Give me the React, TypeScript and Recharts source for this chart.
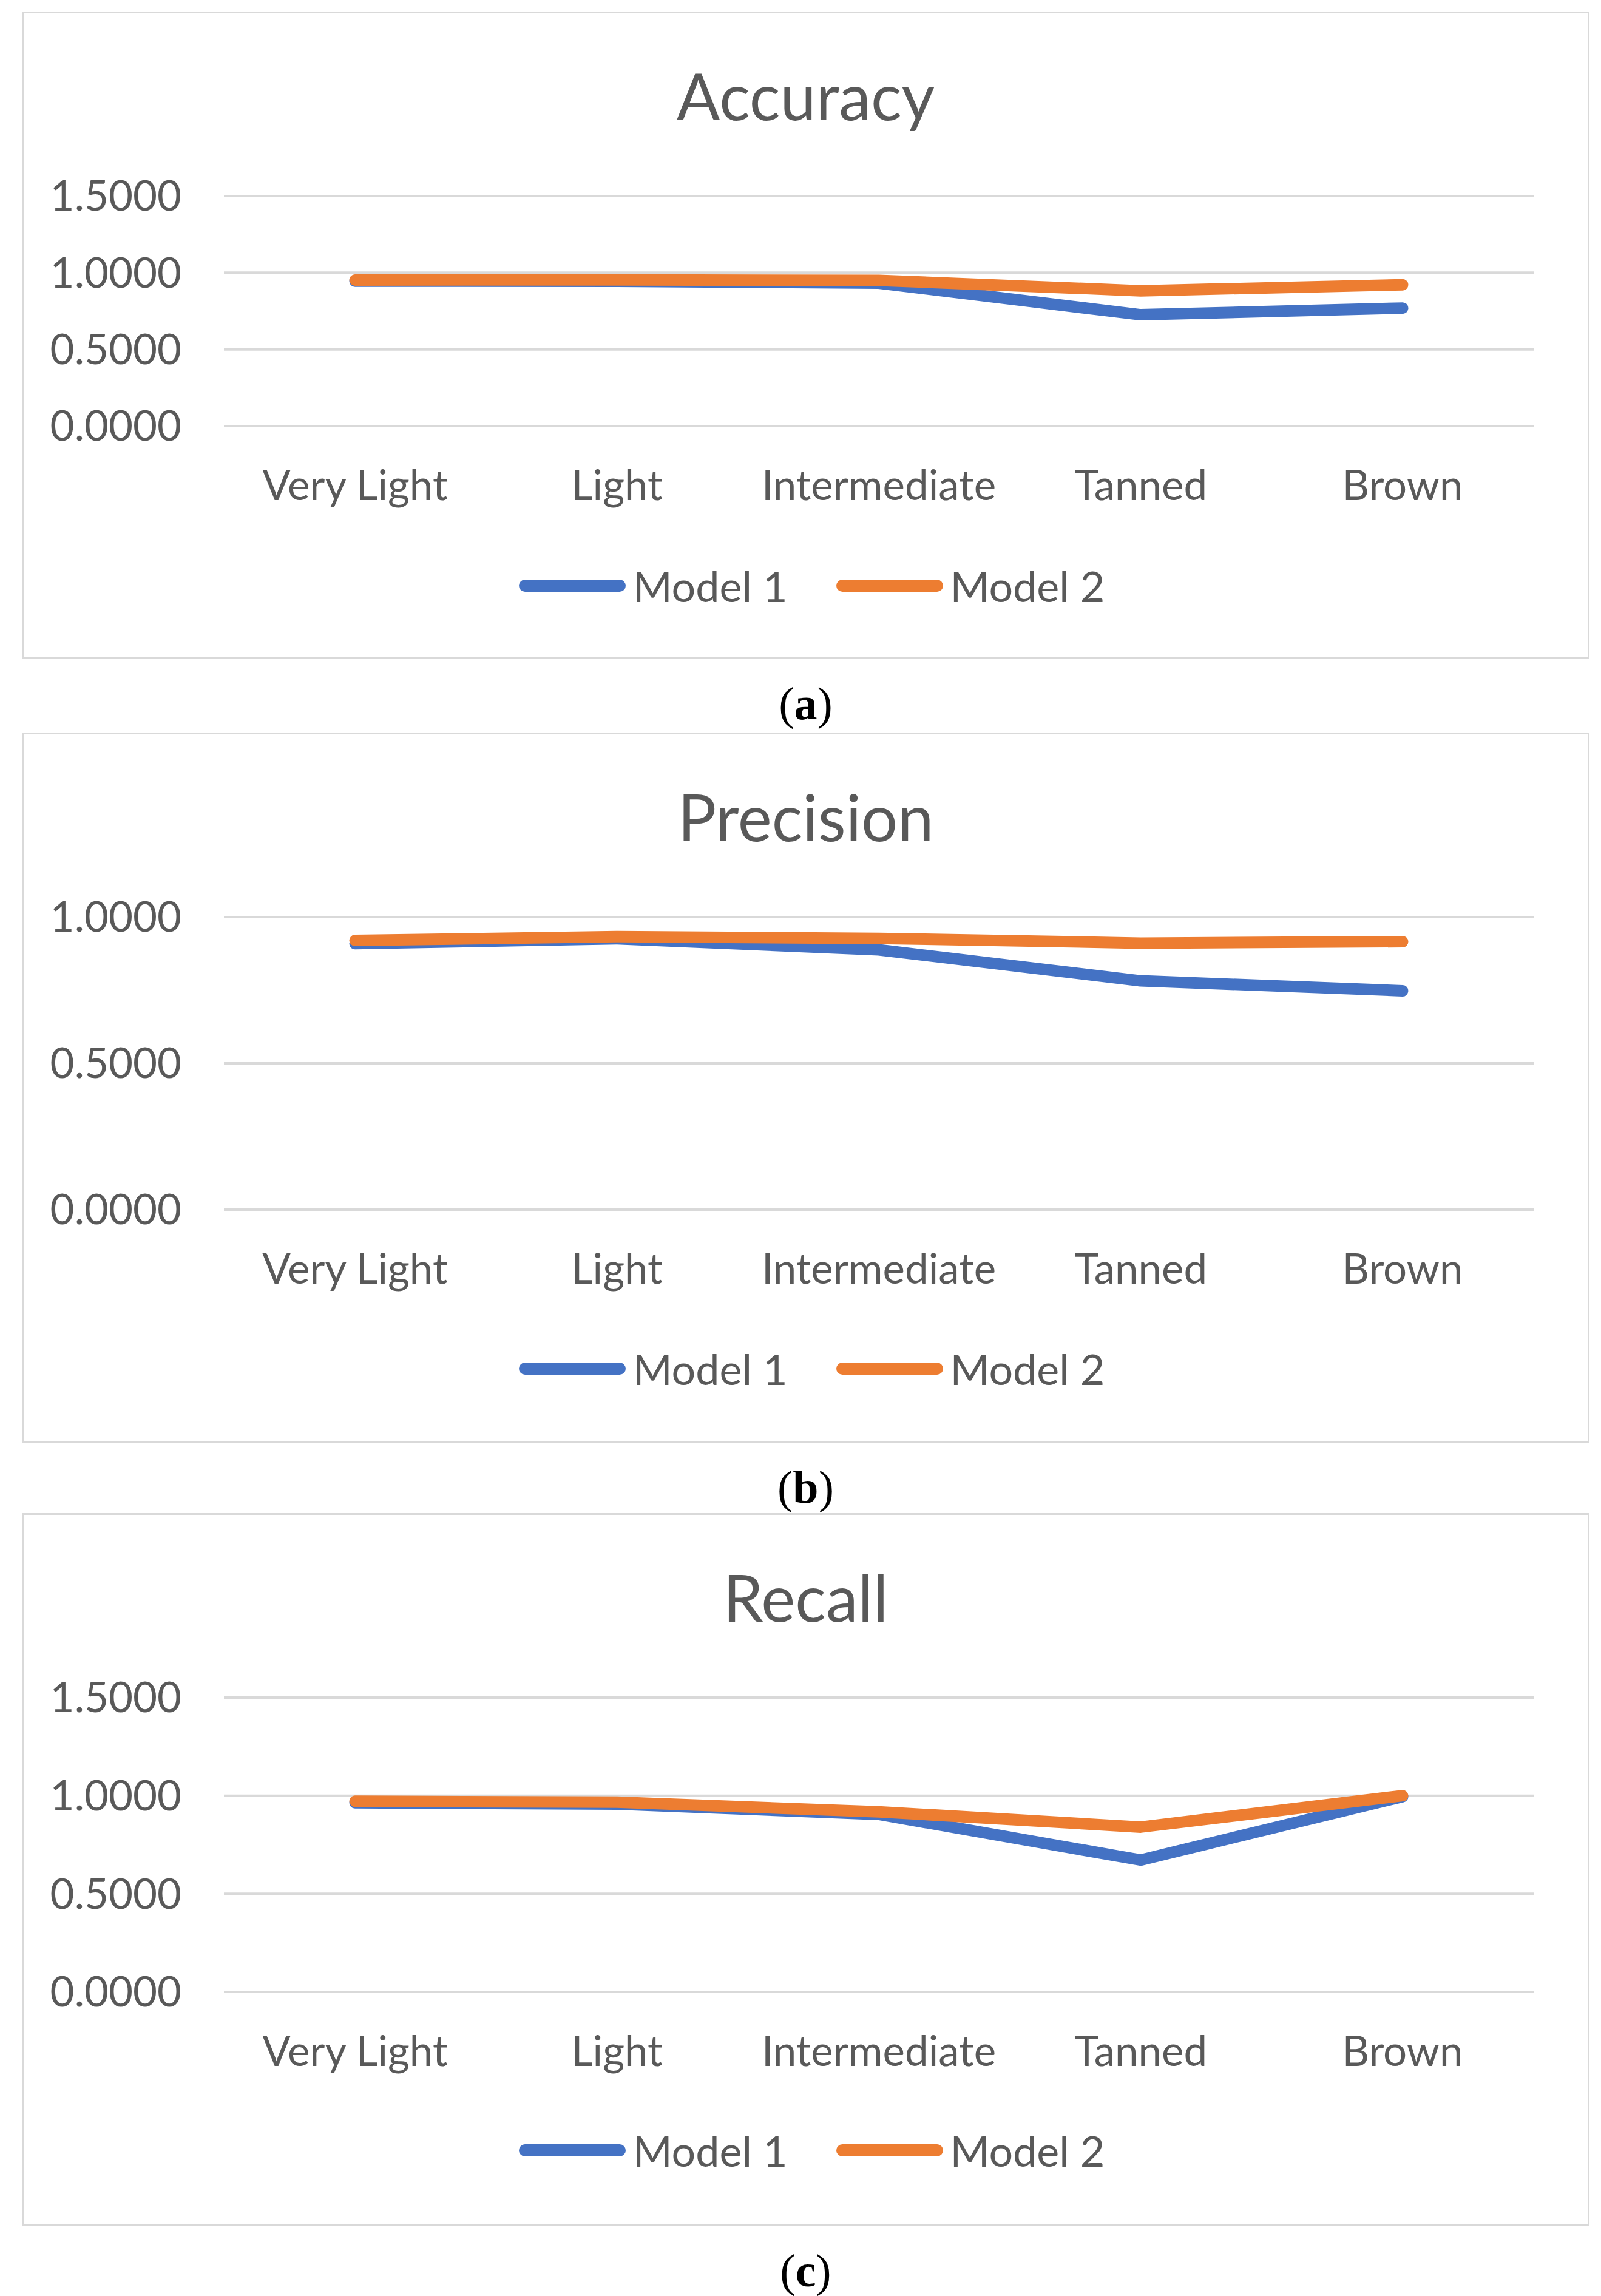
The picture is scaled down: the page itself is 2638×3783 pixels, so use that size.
import { CartesianGrid, Legend, Line, LineChart, XAxis, YAxis } from "recharts"

const categories = ["Very Light", "Light", "Intermediate", "Tanned", "Brown"]

const accuracyModel1 = [0.945, 0.944, 0.932, 0.726, 0.769]
const accuracyModel2 = [0.952, 0.953, 0.95, 0.882, 0.921]
const precisionModel1 = [0.909, 0.926, 0.888, 0.782, 0.748]
const precisionModel2 = [0.92, 0.933, 0.927, 0.911, 0.916]
const recallModel1 = [0.964, 0.957, 0.905, 0.672, 0.995]
const recallModel2 = [0.972, 0.967, 0.918, 0.84, 1.0]

const ticksWide = [0, 0.5, 1, 1.5]
const ticksNarrow = [0, 0.5, 1]

const BLUE = "#4472C4"
const ORANGE = "#ED7D31"
const TEXT = "#595959"
const FONT = "Lato, 'Open Sans', sans-serif"

const PANEL_LEFT = 36
const PANEL_WIDTH = 2583

function buildRows(m1: number[], m2: number[]) {
  return categories.map((name, i) => ({ name, m1: m1[i], m2: m2[i] }))
}

function LegendBox() {
  const item = (color: string, label: string, gap: number) => (
    <div style={{ display: "flex", alignItems: "center", marginRight: gap }}>
      <div style={{ width: 176, height: 20, borderRadius: 10, background: color, marginRight: 12 }} />
      <span style={{ fontSize: 70, color: TEXT, fontFamily: FONT }}>{label}</span>
    </div>
  )
  return (
    <div style={{ display: "flex", justifyContent: "center", alignItems: "center", height: 90, paddingLeft: 20 }}>
      {item(BLUE, "Model 1", 80)}
      {item(ORANGE, "Model 2", 0)}
    </div>
  )
}

function Panel({
  top,
  height,
  plotBottom,
  legendTop,
  title,
  caption,
  m1,
  m2,
  domainMax,
  ticks,
}: {
  top: number
  height: number
  plotBottom: number
  legendTop: number
  title: string
  caption: string
  m1: number[]
  m2: number[]
  domainMax: number
  ticks: number[]
}) {
  const plotTop = 304
  const xAxisHeight = 120
  return (
    <>
      <div
        style={{
          position: "absolute",
          left: PANEL_LEFT,
          top,
          width: PANEL_WIDTH,
          height,
          border: "3px solid #d9d9d9",
          boxSizing: "border-box",
          background: "#fff",
        }}
      />
      <div
        style={{
          position: "absolute",
          left: PANEL_LEFT,
          top: top + 138 - 60,
          width: PANEL_WIDTH,
          textAlign: "center",
          fontFamily: FONT,
          fontSize: 106,
          lineHeight: "120px",
          color: TEXT,
        }}
      >
        {title}
      </div>
      <div style={{ position: "absolute", left: PANEL_LEFT, top }}>
        <LineChart
          width={PANEL_WIDTH}
          height={height}
          data={buildRows(m1, m2)}
          margin={{ top: plotTop, right: 92, left: 0, bottom: height - plotBottom - xAxisHeight }}
        >
          <CartesianGrid horizontal vertical={false} stroke="#d9d9d9" strokeWidth={4} />
          <XAxis
            dataKey="name"
            height={xAxisHeight}
            axisLine={false}
            tickLine={false}
            tickMargin={67}
            padding={{ left: 216, right: 216 }}
            tick={{ fill: TEXT, fontSize: 69, fontFamily: FONT }}
            interval={0}
          />
          <YAxis
            width={333}
            domain={[0, domainMax]}
            ticks={ticks}
            axisLine={false}
            tickLine={false}
            tickMargin={64}
            tickFormatter={(v: number) => v.toFixed(4)}
            tick={{ fill: TEXT, fontSize: 69, fontFamily: FONT }}
          />
          <Legend
            verticalAlign="middle"
            layout="horizontal"
            align="center"
            wrapperStyle={{ top: legendTop, left: 0, width: PANEL_WIDTH }}
            content={() => <LegendBox />}
          />
          <Line
            dataKey="m1"
            name="Model 1"
            stroke={BLUE}
            strokeWidth={19}
            strokeLinecap="round"
            strokeLinejoin="round"
            dot={false}
            isAnimationActive={false}
          />
          <Line
            dataKey="m2"
            name="Model 2"
            stroke={ORANGE}
            strokeWidth={19}
            strokeLinecap="round"
            strokeLinejoin="round"
            dot={false}
            isAnimationActive={false}
          />
        </LineChart>
      </div>
      <div
        style={{
          position: "absolute",
          left: PANEL_LEFT,
          top: top + height + 31,
          width: PANEL_WIDTH,
          textAlign: "center",
          fontFamily: "'Liberation Serif', 'DejaVu Serif', serif",
          fontSize: 76,
          lineHeight: "84px",
          color: "#000",
        }}
      >
        (<b>{caption}</b>)
      </div>
    </>
  )
}

export default function App() {
  return (
    <div style={{ position: "absolute", left: 0, top: 0, width: 2638, height: 3783, background: "#fff" }}>
      <Panel
        top={19}
        height={1067}
        plotBottom={683}
        legendTop={901}
        title="Accuracy"
        caption="a"
        m1={accuracyModel1}
        m2={accuracyModel2}
        domainMax={1.5}
        ticks={ticksWide}
      />
      <Panel
        top={1207}
        height={1170}
        plotBottom={786}
        legendTop={1003}
        title="Precision"
        caption="b"
        m1={precisionModel1}
        m2={precisionModel2}
        domainMax={1}
        ticks={ticksNarrow}
      />
      <Panel
        top={2493}
        height={1175}
        plotBottom={789}
        legendTop={1005}
        title="Recall"
        caption="c"
        m1={recallModel1}
        m2={recallModel2}
        domainMax={1.5}
        ticks={ticksWide}
      />
    </div>
  )
}
